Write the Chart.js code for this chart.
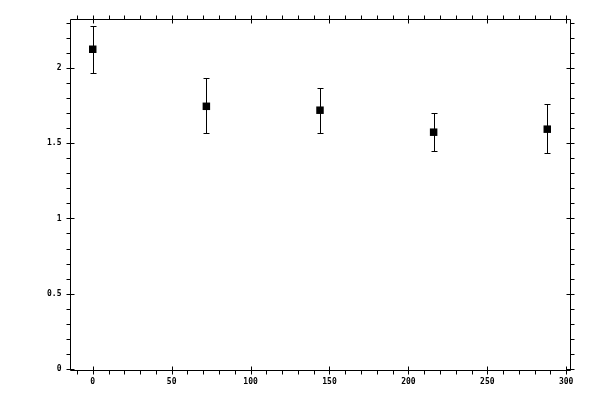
<!DOCTYPE html>
<html>
<head>
<meta charset="utf-8">
<script src="https://cdn.jsdelivr.net/npm/chart.js@4/dist/chart.umd.min.js"></script>
<style>
html,body{margin:0;padding:0;background:#fff;}
#wrap{width:600px;height:400px;}
</style>
</head>
<body>
<div id="wrap"><canvas id="c" width="600" height="400"></canvas></div>
<script>
const xValues = [0, 72, 144, 216, 288];
const yValues = [2.124, 1.745, 1.719, 1.573, 1.593];
const yErrLow = [1.965, 1.568, 1.568, 1.446, 1.433];
const yErrHigh = [2.277, 1.932, 1.865, 1.699, 1.759];
const xTicks = [0, 50, 100, 150, 200, 250, 300];
const yTicks = [0, 0.5, 1, 1.5, 2];
const yTickLabels = ['0', '0.5', '1', '1.5', '2'];
const xMinorStep = 10;
const yMinorStep = 0.1;

const FONT = 'bold 8px "DejaVu Sans Mono", monospace';

const decor = {
  id: 'decor',
  afterDatasetsDraw(chart) {
    const ctx = chart.ctx;
    const xs = chart.scales.x, ys = chart.scales.y;
    const a = chart.chartArea;
    const L = Math.round(a.left) + 0.5, R = Math.round(a.right) + 0.5;
    const T = Math.round(a.top) + 0.5, B = Math.round(a.bottom) + 0.5;
    ctx.save();
    ctx.strokeStyle = '#000';
    ctx.lineWidth = 1;
    // error bars
    const capW = 3;
    for (let i = 0; i < xValues.length; i++) {
      const px = Math.round(xs.getPixelForValue(xValues[i])) + 0.5;
      const lo = Math.round(ys.getPixelForValue(yErrLow[i])) + 0.5;
      const hi = Math.round(ys.getPixelForValue(yErrHigh[i])) + 0.5;
      ctx.beginPath();
      ctx.moveTo(px, lo); ctx.lineTo(px, hi);
      ctx.moveTo(px - capW, lo); ctx.lineTo(px + capW, lo);
      ctx.moveTo(px - capW, hi); ctx.lineTo(px + capW, hi);
      ctx.stroke();
    }
    // frame
    ctx.beginPath();
    ctx.rect(L, T, R - L, B - T);
    ctx.stroke();
    // x ticks
    ctx.beginPath();
    for (let v = Math.ceil(xs.min / xMinorStep) * xMinorStep; v <= xs.max + 1e-9; v += xMinorStep) {
      const px = Math.round(xs.getPixelForValue(v)) + 0.5;
      const major = xTicks.includes(Math.round(v));
      if (major) {
        ctx.moveTo(px, B - 4); ctx.lineTo(px, B + 4);
        ctx.moveTo(px, T - 4); ctx.lineTo(px, T + 4);
      } else {
        ctx.moveTo(px, B); ctx.lineTo(px, B + 4);
        ctx.moveTo(px, T); ctx.lineTo(px, T - 4);
      }
    }
    // y ticks
    for (let k = Math.ceil(ys.min / yMinorStep); k * yMinorStep <= ys.max + 1e-9; k++) {
      const v = k * yMinorStep;
      const py = Math.round(ys.getPixelForValue(v)) + 0.5;
      const major = k % 5 === 0;
      if (major) {
        ctx.moveTo(L - 4, py); ctx.lineTo(L + 4, py);
        ctx.moveTo(R - 4, py); ctx.lineTo(R + 4, py);
      } else {
        ctx.moveTo(L, py); ctx.lineTo(L - 4, py);
        ctx.moveTo(R, py); ctx.lineTo(R + 4, py);
      }
    }
    ctx.stroke();
    // labels
    ctx.fillStyle = '#000';
    ctx.font = FONT;
    ctx.textAlign = 'center';
    ctx.textBaseline = 'middle';
    xTicks.forEach(v => {
      ctx.fillText(String(v), xs.getPixelForValue(v), B + 11);
    });
    ctx.textAlign = 'right';
    yTicks.forEach((v, i) => {
      ctx.fillText(yTickLabels[i], L - 9, ys.getPixelForValue(v));
    });
    ctx.restore();
  }
};

new Chart(document.getElementById('c'), {
  type: 'scatter',
  data: {
    datasets: [{
      data: xValues.map((x, i) => ({x: x, y: yValues[i]})),
      pointStyle: 'rect',
      radius: 5.3,
      hoverRadius: 5.3,
      backgroundColor: '#000',
      borderColor: '#000',
      borderWidth: 0
    }]
  },
  options: {
    responsive: false,
    animation: false,
    devicePixelRatio: 1,
    layout: { padding: { left: 70, top: 19, right: 30, bottom: 30 } },
    plugins: { legend: { display: false }, tooltip: { enabled: false } },
    scales: {
      x: { type: 'linear', min: -14.4, max: 302.4, display: false },
      y: { type: 'linear', min: -0.007, max: 2.325, display: false }
    }
  },
  plugins: [decor]
});
</script>
</body>
</html>
